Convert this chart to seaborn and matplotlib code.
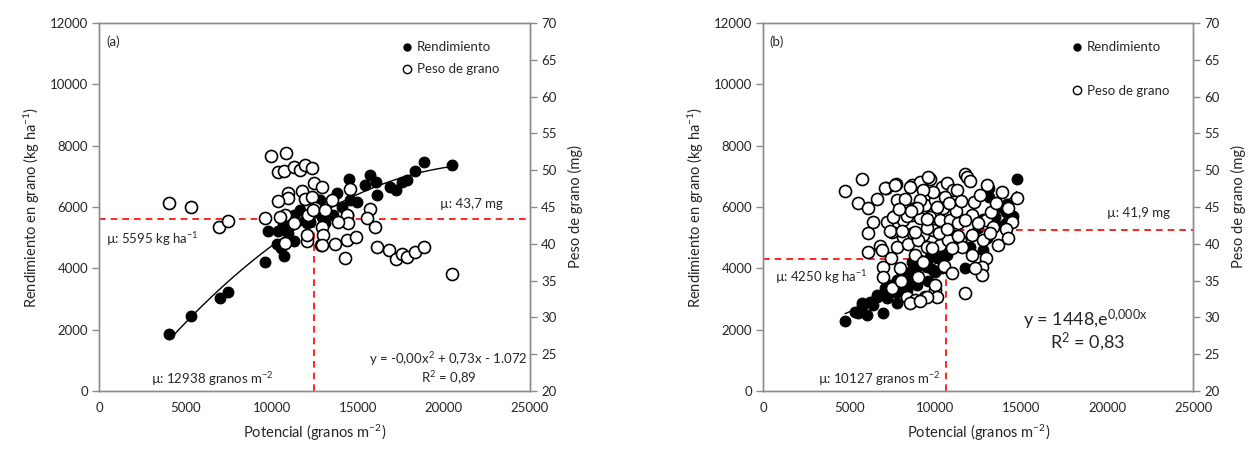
import numpy as np
import matplotlib
matplotlib.use("Agg")
import matplotlib.pyplot as plt
from matplotlib.lines import Line2D
import seaborn as sns

# ---- panel (a) ----
a_rend_x = [4060, 5330, 7020, 7480, 9630, 9800, 10380, 10730, 10320, 10960, 11310, 10550,
            10670, 11310, 11650, 11950, 12700, 12930, 14500, 15710, 16060, 15430, 16120,
            16870, 17220, 17570, 17860, 18320, 18850, 20470, 13800, 14550, 14960, 14090,
            13570, 13110, 12240, 12060, 13860, 14440, 12530, 12820]
a_rend_y = [1858, 2445, 3032, 3228, 4205, 5216, 5216, 4400, 4792, 5150, 4890, 4660,
            5410, 5738, 5900, 5575, 6227, 5672, 6911, 7042, 6813, 6716, 6390,
            6650, 6553, 6813, 6879, 7172, 7465, 7368, 6455, 6227, 6161, 6000,
            5738, 5477, 5510, 5477, 5510, 5738, 5835, 6227]
a_peso_x = [4060, 5330, 6960, 7480, 9630, 9970, 10840, 10380, 10730, 11310, 11650, 11950,
            12350, 12470, 12930, 10960, 10960, 10380, 11770, 11950, 12350, 10790, 12530,
            11310, 10790, 12060, 12870, 10500, 12120, 12410, 13110, 13510, 14550, 15710,
            15540, 16000, 14380, 14440, 13860, 12930, 12060, 12990, 12930, 13680, 14380,
            14900, 14260, 16120, 16820, 17220, 17570, 17860, 18320, 18850, 20470]
a_peso_y = [45.5, 45.0, 42.3, 43.1, 43.5, 51.9, 52.3, 49.8, 49.9, 50.4, 50.0, 50.7,
            50.3, 48.3, 47.7, 46.9, 46.2, 45.8, 47.2, 46.1, 46.4, 43.9, 44.9,
            42.8, 40.1, 40.4, 39.8, 43.6, 43.9, 44.6, 44.6, 46.0, 47.5, 44.7,
            43.5, 42.3, 43.9, 42.8, 43.0, 42.3, 41.2, 41.2, 39.8, 40.0, 40.5,
            40.9, 38.1, 39.6, 39.2, 37.9, 38.6, 38.2, 38.9, 39.6, 35.9]

# ---- panel (b) ----
b_rend_x = [4750, 5330, 5510, 6030, 5740, 5740, 6380, 6610, 6610, 6960, 7190, 7080, 7190,
            7660, 7780, 7780, 7950, 8250, 8070, 8370, 8540, 8830, 8950, 9120, 9290, 9520,
            8650, 7370, 8370, 8950, 7780, 8420, 9880, 10400, 9520, 10000, 11740, 12790,
            12030, 11160, 9700, 10170, 10690, 11040, 14730, 14150, 14090, 13100, 13100,
            13450, 14090, 12500, 13000, 13500, 12200, 11500, 11000, 14500, 13800, 12800,
            10800, 10300, 9800, 6200, 8000, 9000, 9600]
b_rend_y = [2280, 2580, 2540, 2480, 2770, 2870, 2800, 3130, 3060, 2540, 3030, 3360, 3390,
            3230, 3230, 3620, 3620, 3520, 3850, 3850, 3880, 4110, 4040, 4270, 4170, 4040,
            4210, 3460, 3290, 3460, 2870, 3520, 3940, 4010, 4170, 3880, 4010, 4600,
            4690, 4820, 4370, 4340, 4430, 5090, 6910, 6100, 5840, 6620, 6330,
            5670, 5480, 5300, 5000, 5400, 5100, 4900, 4700, 5700, 6000, 5600,
            5000, 4600, 4500, 2900, 3300, 3700, 3600]
b_peso_x = [4750, 5740, 5510, 6090, 6610, 7130, 7720, 8650, 9120, 9700, 10400, 10690, 11040,
            11740, 11860, 6380, 7190, 7660, 8130, 8650, 9120, 9700, 10280, 10870, 7780,
            8250, 8830, 9410, 10000, 10580, 9880, 9290, 7490, 8130, 8710, 9290, 9880,
            6090, 6790, 7780, 8420, 9000, 9520, 10280, 10750, 11450, 12150, 6960, 6960,
            7950, 7490, 8370, 8830, 9410, 10000, 11740, 13020, 14770, 12270, 14480,
            14090, 12920, 12150, 11340, 11280, 9580, 10460, 10110, 13330, 11740, 12500,
            13220, 11570, 12150, 12920, 12740, 12740, 12330, 13620, 14210, 10000, 10110,
            9520, 9820, 10980, 7080, 7660, 8540, 9120, 7550, 8370, 8950, 6090, 7370,
            8070, 8830, 9520, 9520, 6900, 7400, 8800, 9300, 10500, 11000, 8000, 9000,
            11200, 12600, 13500, 14200, 13900, 10800, 11500, 12000, 8600, 7900, 10200,
            10700, 11300, 12800, 13200, 8540, 9120]
b_peso_y = [47.2, 48.8, 45.5, 44.9, 46.1, 47.6, 48.1, 48.0, 48.4, 48.8, 47.7, 48.3, 47.3,
            49.5, 49.1, 43.0, 43.0, 43.8, 43.2, 43.9, 43.5, 43.6, 43.2, 43.2, 46.0,
            46.1, 44.9, 45.3, 46.0, 46.4, 47.0, 47.3, 41.6, 40.9, 41.5, 41.2, 41.9,
            38.9, 39.7, 39.6, 40.0, 40.5, 39.6, 39.8, 40.5, 40.5, 41.2, 36.9, 35.5,
            36.7, 34.0, 32.8, 32.4, 32.8, 33.7, 33.3, 48.0, 46.2, 45.7, 43.0,
            42.0, 43.2, 43.9, 42.8, 47.3, 49.1, 44.9, 45.0, 42.3, 43.2, 42.8,
            44.3, 39.6, 38.5, 38.1, 36.9, 35.8, 36.7, 39.8, 40.8, 34.4, 32.8,
            32.8, 39.4, 39.4, 47.6, 48.0, 47.7, 46.0, 43.7, 43.8, 44.9, 41.5, 41.7,
            41.7, 41.6, 42.2, 43.4, 39.2, 38.0, 38.5, 37.5, 37.0, 36.0, 35.0, 35.5,
            44.5, 46.6, 45.5, 44.8, 47.0, 45.6, 45.8, 48.5, 44.5, 44.7, 41.5,
            42.0, 41.0, 40.5, 41.5, 32.0, 32.2]

# mean reference lines (positions as drawn)
a_mean_x, a_mean_y = 12450, 5595
b_mean_x, b_mean_y, b_mean_peso = 10600, 4300, 41.9

sns.set_style("white")
plt.rcParams['font.family'] = ['Lato', 'DejaVu Sans']
txt = '#262626'
grey = '#8c8c8c'

fig = plt.figure(figsize=(12.56, 4.53), dpi=100)
rects = [[0.0792, 0.1369, 0.3428, 0.8124], [0.6077, 0.1369, 0.3424, 0.8124]]


def style(ax, ax2):
    ax.set_xlim(0, 25000)
    ax.set_ylim(0, 12000)
    ax2.set_ylim(20, 70)
    ax.set_xticks(range(0, 25001, 5000))
    ax.set_yticks(range(0, 12001, 2000))
    ax2.set_yticks(range(20, 71, 5))
    for a in (ax, ax2):
        for s in a.spines.values():
            s.set_color(grey)
            s.set_linewidth(1)
        a.tick_params(direction='out', length=5, width=1, color=grey,
                      labelsize=9.5, labelcolor=txt, pad=3)
    ax.set_xlabel('Potencial (granos m$\\mathregular{^{-2}}$)', fontsize=10.5, color=txt,
                  labelpad=6)
    ax.set_ylabel('Rendimiento en grano (kg ha$\\mathregular{^{-1}}$)', fontsize=10.5,
                  color=txt, labelpad=6)
    ax2.set_ylabel('Peso de grano (mg)', fontsize=10.5, color=txt, labelpad=8)


def legend(ax2, spacing):
    h = [Line2D([], [], marker='o', ls='', markersize=5, markerfacecolor='black',
                markeredgecolor='black'),
         Line2D([], [], marker='o', ls='', markersize=6, markerfacecolor='white',
                markeredgecolor='black', markeredgewidth=1)]
    ax2.legend(h, ['Rendimiento', 'Peso de grano'], loc='upper left',
               bbox_to_anchor=(0.703, 0.95), frameon=False, fontsize=9.5,
               handlelength=0.8, handletextpad=0.3, borderpad=0, borderaxespad=0,
               labelspacing=spacing)


# ---------- panel (a) ----------
ax = fig.add_axes(rects[0])
ax2 = ax.twinx()
sns.scatterplot(x=a_rend_x, y=a_rend_y, ax=ax, s=60, color='black', edgecolor='black',
                linewidth=0.8, zorder=3, legend=False)
sns.regplot(x=np.array(a_rend_x), y=np.array(a_rend_y), ax=ax, order=2, ci=None,
            scatter=False, line_kws=dict(color='black', lw=1, zorder=4))
ax.axhline(a_mean_y, color='red', ls=(0, (4, 3)), lw=1.2, zorder=2)
ax.plot([a_mean_x, a_mean_x], [0, a_mean_y], color='red', ls=(0, (4, 3)), lw=1.2, zorder=2)
sns.scatterplot(x=a_peso_x, y=a_peso_y, ax=ax2, s=75, color='white', edgecolor='black',
                linewidth=1.2, zorder=3, legend=False)
style(ax, ax2)
legend(ax2, 0.75)
ax.text(0.015, 0.948, '(a)', transform=ax.transAxes, fontsize=9.5, color=txt, va='center')
ax.text(380, 4955, 'µ: 5595 kg ha$\\mathregular{^{-1}}$', fontsize=9.5, color=txt,
        va='center')
ax.text(19750, 6100, 'µ: 43,7 mg', fontsize=9.5, color=txt, va='center')
ax.text(6550, 390, 'µ: 12938 granos m$\\mathregular{^{-2}}$', fontsize=9.5, color=txt,
        va='center', ha='center')
ax.text(24850, 1040, 'y = -0,00x$\\mathregular{^{2}}$ + 0,73x - 1.072', fontsize=9.5,
        color=txt, va='center', ha='right')
ax.text(20270, 420, 'R$\\mathregular{^{2}}$ = 0,89', fontsize=9.5, color=txt,
        va='center', ha='center')

# ---------- panel (b) ----------
bx = fig.add_axes(rects[1])
bx2 = bx.twinx()
sns.scatterplot(x=b_rend_x, y=b_rend_y, ax=bx, s=60, color='black', edgecolor='black',
                linewidth=0.8, zorder=3, legend=False)
coef = np.polyfit(b_rend_x, np.log(b_rend_y), 1)
xs = np.linspace(min(b_rend_x), max(b_rend_x), 100)
sns.lineplot(x=xs, y=np.exp(np.polyval(coef, xs)), ax=bx, color='black', lw=1, zorder=4)
bx.plot([0, b_mean_x], [b_mean_y, b_mean_y], color='red', ls=(0, (4, 3)), lw=1.2, zorder=2)
bx.plot([b_mean_x, b_mean_x], [0, (b_mean_peso - 20) / 50 * 12000], color='red',
        ls=(0, (4, 3)), lw=1.2, zorder=2)
bx2.plot([b_mean_x, 25000], [b_mean_peso, b_mean_peso], color='red', ls=(0, (4, 3)),
         lw=1.2, zorder=2)
sns.scatterplot(x=b_peso_x, y=b_peso_y, ax=bx2, s=75, color='white', edgecolor='black',
                linewidth=1.2, zorder=3, legend=False)
style(bx, bx2)
legend(bx2, 2.4)
bx2.get_legend().set_bbox_to_anchor((0.718, 0.95))
bx.text(0.015, 0.948, '(b)', transform=bx.transAxes, fontsize=9.5, color=txt, va='center')
bx.text(680, 3716, 'µ: 4250 kg ha$\\mathregular{^{-1}}$', fontsize=9.5, color=txt,
        va='center')
bx.text(19990, 5800, 'µ: 41,9 mg', fontsize=9.5, color=txt, va='center')
bx.text(10290, 390, 'µ: 10127 granos m$\\mathregular{^{-2}}$', fontsize=9.5, color=txt,
        va='center', ha='right')
bx.text(18730, 2315, 'y = 1448,e$\\mathregular{^{0{,}000x}}$', fontsize=13, color=txt,
        va='center', ha='center')
bx.text(18840, 1607, 'R$\\mathregular{^{2}}$ = 0,83', fontsize=13, color=txt,
        va='center', ha='center')

fig.savefig('out.png', dpi=100)
